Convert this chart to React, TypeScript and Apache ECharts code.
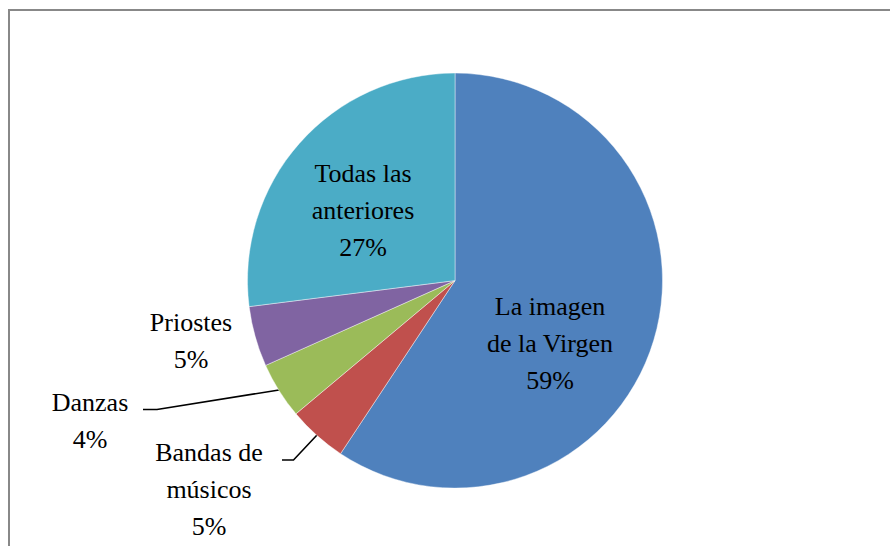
import React, { useEffect, useRef } from "react";
import * as echarts from "echarts";

const categories = [
  "La imagen de la Virgen",
  "Bandas de músicos",
  "Danzas",
  "Priostes",
  "Todas las anteriores",
];
const labelTexts = [
  "La imagen\nde la Virgen",
  "Bandas de\nmúsicos",
  "Danzas",
  "Priostes",
  "Todas las\nanteriores",
];
const values = [59.3, 4.6, 4.4, 4.7, 27.0];
const colors = ["#4F81BD", "#C0504D", "#9BBB59", "#8064A2", "#4BACC6"];

export default function App() {
  const ref = useRef<HTMLDivElement>(null);
  useEffect(() => {
    document.body.style.margin = "0";
    if (!ref.current) return;
    const chart = echarts.init(ref.current, undefined, { renderer: "svg" });
    const labelPos: number[][] = [
      [550, 343],
      [209, 489],
      [90, 421],
      [191, 341],
      [363, 210],
    ];
    chart.setOption({
      animation: false,
      backgroundColor: "#ffffff",
      graphic: [
        {
          type: "line",
          shape: { x1: 9, y1: 10, x2: 9, y2: 546 },
          style: { stroke: "#888888", lineWidth: 2 },
        },
        {
          type: "line",
          shape: { x1: 8, y1: 10, x2: 890, y2: 10 },
          style: { stroke: "#888888", lineWidth: 2 },
        },
        {
          type: "polyline",
          shape: { points: [[279, 390], [157, 409.5], [143, 409.5]] },
          style: { stroke: "#000000", lineWidth: 1.6, fill: null },
        },
        {
          type: "polyline",
          shape: { points: [[317, 435], [293.5, 460], [282, 460]] },
          style: { stroke: "#000000", lineWidth: 1.6, fill: null },
        },
      ],
      series: [
        {
          type: "pie",
          center: [455, 280.6],
          radius: 207.5,
          startAngle: 90,
          clockwise: true,
          color: colors,
          itemStyle: { borderColor: "rgba(255,255,255,0.6)", borderWidth: 0.7 },
          label: {
            show: true,
            position: "inside",
            fontFamily: "Liberation Serif",
            fontSize: 26,
            lineHeight: 37,
            color: "#000000",
            align: "center",
            formatter: (p: any) =>
              `${labelTexts[p.dataIndex]}\n${Math.round(p.percent)}%`,
          },
          labelLine: { show: false },
          labelLayout: (params: any) => {
            const pos = labelPos[params.dataIndex];
            return { x: pos[0], y: pos[1], align: "center", verticalAlign: "middle" };
          },
          emphasis: { disabled: true },
          data: categories.map((name, i) => ({ name, value: values[i] })),
        },
      ],
    });
    return () => chart.dispose();
  }, []);
  return <div ref={ref} style={{ width: 890, height: 546 }} />;
}
